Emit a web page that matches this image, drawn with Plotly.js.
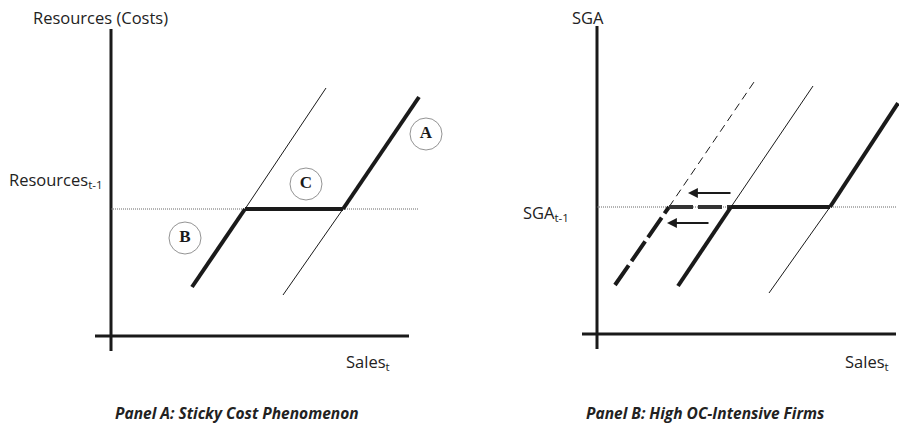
<!DOCTYPE html>
<html>
<head>
<meta charset="utf-8">
<script src="https://cdn.plot.ly/plotly-3.0.1.min.js"></script>
<style>
  html, body { margin: 0; padding: 0; background: #fff; }
  #chart { width: 899px; height: 423px; }
</style>
</head>
<body>
<div id="chart"></div>
<script>
// prior-period level (Resources_t-1 / SGA_t-1)
const prevLevel = 12.7;

// Panel A: sticky cost
const aUpX = [23.2, 30.8],      aUpY = [12.7, 23.9];     // thick, cost increase (A)
const aDownX = [8.1, 13.4],     aDownY = [4.9, 12.7];    // thick, cost decrease (B)
const aFlatX = [13.4, 23.2],    aFlatY = [12.7, 12.7];   // thick, sticky region (C)
const aThinUpX = [13.4, 21.5],  aThinUpY = [12.7, 24.8];
const aThinDnX = [17.2, 23.2],  aThinDnY = [4.1, 12.7];
const aDotX = [0, 30.8];
const aAxisX = [-1.6, 29.8],    aAxisY = [-1.5, 30.7];
const circleX = [31.5, 19.5, 7.4];
const circleY = [20.2, 15.2, 9.8];
const circleLbl = ['A', 'C', 'B'];

// Panel B: high OC-intensive firms
const bDashUpX = [7.2, 15.7],   bDashUpY = [12.7, 25.2];
const bDashDnX = [1.8, 7.2],    bDashDnY = [4.9, 12.7];
const bDashFlatX = [7.2, 13.4], bDashFlatY = [12.7, 12.7];
const bMidUpX = [13.4, 21.6],   bMidUpY = [12.7, 24.8];
const bMidDnX = [8.1, 13.4],    bMidDnY = [4.8, 12.7];
const bFlatX = [13.4, 23.3],    bFlatY = [12.7, 12.7];
const bRightUpX = [23.3, 30.1], bRightUpY = [12.7, 23.1];
const bRightDnX = [17.2, 23.3], bRightDnY = [4.1, 12.7];
const bDotX = [0, 29.9];
const bAxisX = [-1.5, 29.9],    bAxisY = [-1.5, 30.8];
const arrowFromX = [13.5, 11.3], arrowToX = [9.1, 7.0], arrowY = [14.1, 11.1];

const INK = '#1a1a1a';
const FONT = 'Open Sans, sans-serif';

function seg(x, y, width, axes, extra) {
  return {
    x: x, y: y, mode: 'lines', hoverinfo: 'skip',
    line: Object.assign({color: INK, width: width}, extra || {}),
    xaxis: axes[0], yaxis: axes[1]
  };
}

const A = ['x', 'y'];
const B = ['x2', 'y2'];
const dotted = {dash: '1px,1px', color: '#666'};

const traces = [
  // panel A
  seg(aAxisX, [0, 0], 3, A),
  seg([0, 0], aAxisY, 3, A),
  seg(aDotX, [prevLevel, prevLevel], 1, A, dotted),
  seg(aThinUpX, aThinUpY, 1, A),
  seg(aThinDnX, aThinDnY, 1, A),
  seg(aUpX, aUpY, 4, A),
  seg(aDownX, aDownY, 4, A),
  seg(aFlatX, aFlatY, 4, A),
  {
    x: circleX, y: circleY, text: circleLbl, mode: 'markers+text',
    hoverinfo: 'skip', textposition: 'middle center',
    textfont: {family: 'Liberation Serif, serif', size: 17, color: INK, weight: 'bold'},
    marker: {symbol: 'circle-open', size: 32, color: '#777', line: {width: 0.8, color: '#777'}},
    xaxis: 'x', yaxis: 'y'
  },
  // panel B
  seg(bAxisX, [0, 0], 3, B),
  seg([0, 0], bAxisY, 3, B),
  seg(bDotX, [prevLevel, prevLevel], 1, B, dotted),
  seg(bDashUpX, bDashUpY, 1, B, {dash: '8px,5px'}),
  seg(bDashDnX, bDashDnY, 4, B, {dash: '24px,5px'}),
  seg(bDashFlatX, bDashFlatY, 4, B, {dash: '24px,5px', color: '#333'}),
  seg(bMidUpX, bMidUpY, 1, B),
  seg(bMidDnX, bMidDnY, 4, B),
  seg(bFlatX, bFlatY, 4, B),
  seg(bRightDnX, bRightDnY, 1, B),
  seg(bRightUpX, bRightUpY, 4, B)
];

const hidden = {visible: false, fixedrange: true};

const arrows = arrowY.map(function(y, i) {
  return {
    xref: 'x2', yref: 'y2', axref: 'x2', ayref: 'y2',
    x: arrowToX[i], y: y, ax: arrowFromX[i], ay: y,
    text: '', showarrow: true, arrowhead: 2, arrowsize: 1.1,
    arrowwidth: 1.8, arrowcolor: INK
  };
});

const txt = {family: FONT, size: 16.5, color: '#222'};
const ttl = {family: FONT, size: 15.5, color: '#222'};

const labels = [
  {xref: 'x', yref: 'y', x: -1.1, y: 31.9, text: 'Resources (Costs)', xanchor: 'center', yanchor: 'middle', showarrow: false, font: txt},
  {xref: 'x', yref: 'y', x: -0.6, y: 15.6, text: 'Resources<sub>t-1</sub>', xanchor: 'right', yanchor: 'middle', showarrow: false, font: txt},
  {xref: 'x', yref: 'y', x: 28.1, y: -2.6, text: 'Sales<sub>t</sub>', xanchor: 'right', yanchor: 'middle', showarrow: false, font: txt},
  {xref: 'x2', yref: 'y2', x: -0.95, y: 31.7, text: 'SGA', xanchor: 'center', yanchor: 'middle', showarrow: false, font: txt},
  {xref: 'x2', yref: 'y2', x: -2.6, y: 12.1, text: 'SGA<sub>t-1</sub>', xanchor: 'right', yanchor: 'middle', showarrow: false, font: txt},
  {xref: 'x2', yref: 'y2', x: 29.4, y: -2.8, text: 'Sales<sub>t</sub>', xanchor: 'right', yanchor: 'middle', showarrow: false, font: txt},
  {xref: 'x', yref: 'y', x: 12.6, y: -7.7, text: '<b><i>Panel A: Sticky Cost Phenomenon</i></b>', showarrow: false, font: ttl},
  {xref: 'x2', yref: 'y2', x: 10.8, y: -7.9, text: '<b><i>Panel B: High OC-Intensive Firms</i></b>', showarrow: false, font: ttl}
];

const layout = {
  width: 899, height: 423,
  margin: {l: 0, r: 0, t: 0, b: 0},
  paper_bgcolor: '#fff', plot_bgcolor: '#fff',
  showlegend: false,
  xaxis: Object.assign({domain: [0, 0.5], range: [-11.1, 33.85]}, hidden),
  yaxis: Object.assign({domain: [0, 1], range: [-8.7, 33.6]}, hidden),
  xaxis2: Object.assign({domain: [0.5, 1], range: [-14.75, 30.2], anchor: 'y2'}, hidden),
  yaxis2: Object.assign({domain: [0, 1], range: [-8.9, 33.4], anchor: 'x2'}, hidden),
  annotations: labels.concat(arrows)
};

Plotly.newPlot('chart', traces, layout, {displayModeBar: false, staticPlot: true});
</script>
</body>
</html>
